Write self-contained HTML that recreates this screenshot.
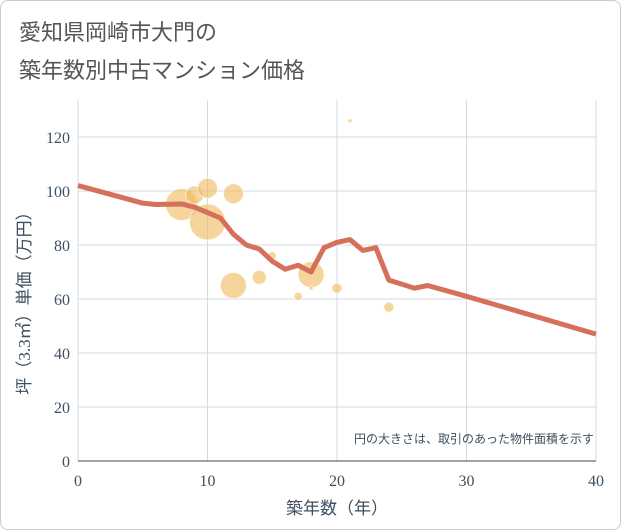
<!DOCTYPE html>
<html><head><meta charset="utf-8"><style>
body{margin:0;background:#fff;}
#wrap{width:619px;height:528px;border:1px solid #ccc;border-radius:8px;position:relative;overflow:hidden;background:#fff;}
.t{position:absolute;left:18px;font-family:"Liberation Sans","Noto Sans CJK JP",sans-serif;font-size:22px;color:#555;}
svg text{font-family:"Liberation Serif","Noto Sans CJK JP",serif;fill:#3d4f60;}
</style></head><body>
<div id="wrap">
<div class="t" style="top:14px">愛知県岡崎市大門の</div>
<div class="t" style="top:52px">築年数別中古マンション価格</div>
<svg id="c" width="621" height="530" style="position:absolute;left:-1px;top:-1px"></svg>
</div>
<script>
const xTicks=[0,10,20,30,40];
const yTicks=[0,20,40,60,80,100,120];
const bubbleYears=[8,9,10,10,12,12,14,15,17,18,18,20,21,24];
const bubblePrices=[95,98.5,101,88.5,99,65,68,76,61,69,64,64,126,57];
const bubbleSizes=[16,9,10,18,10,13,7,4,4,13,2,5,2,5];
const lineYears=[0,5,6,8,9,10,11,12,13,14,15,16,17,18,19,20,21,22,23,24,25,26,27,30,40];
const linePrices=[102,95.5,95,95.2,94,92,90,84,80,78.5,74,71,72.5,70,79,81,82,78,79,67,65.5,64,65,61,47];
const NS='http://www.w3.org/2000/svg';
const svg=document.getElementById('c');
const X=v=>78+v*(596-78)/40, Y=v=>461-v*(461-137)/120;
function mk(t,a){const e=document.createElementNS(NS,t);for(const k in a)e.setAttribute(k,a[k]);svg.appendChild(e);return e;}
yTicks.forEach(v=>{const l=mk('line',{x1:78,x2:596,y1:Y(v),y2:Y(v),stroke:'#d0dbe6','stroke-width':1});


const t=mk('text',{x:70,y:Y(v)+6,'text-anchor':'end','font-size':16});t.textContent=v;

});
xTicks.forEach(v=>{const l=mk('line',{x1:X(v),x2:X(v),y1:100,y2:461,stroke:'#d0dbe6','stroke-width':1});


const t=mk('text',{x:X(v),y:486,'text-anchor':'middle','font-size':16});t.textContent=v;

});
const ax=mk('line',{x1:78,x2:596,y1:461,y2:461,stroke:'#444','stroke-width':1});


bubbleYears.forEach((v,i)=>{const c=mk('circle',{cx:X(v),cy:Y(bubblePrices[i]),r:bubbleSizes[i],fill:'rgba(240,185,90,0.6)',stroke:'rgba(255,255,255,0.6)'});

});
const p=mk('polyline',{points:lineYears.map((v,i)=>X(v)+','+Y(linePrices[i])).join(' '),fill:'none',stroke:'#d5705a','stroke-width':5,'stroke-linejoin':'round'});


const xt=mk('text',{x:337,y:514,'text-anchor':'middle','font-size':17,'font-family':'"Liberation Sans","Noto Sans CJK JP",sans-serif'});xt.textContent='築年数（年）';


const yt=mk('text',{x:0,y:0,'text-anchor':'middle','font-size':17,transform:'translate(30,299) rotate(-90)'});yt.textContent='坪（3.3㎡）単価（万円）';


const nt=mk('text',{x:594,y:443,'text-anchor':'end','font-size':12,'font-family':'"Liberation Sans","Noto Sans CJK JP",sans-serif'});nt.textContent='円の大きさは、取引のあった物件面積を示す';


</script>
</body></html>
